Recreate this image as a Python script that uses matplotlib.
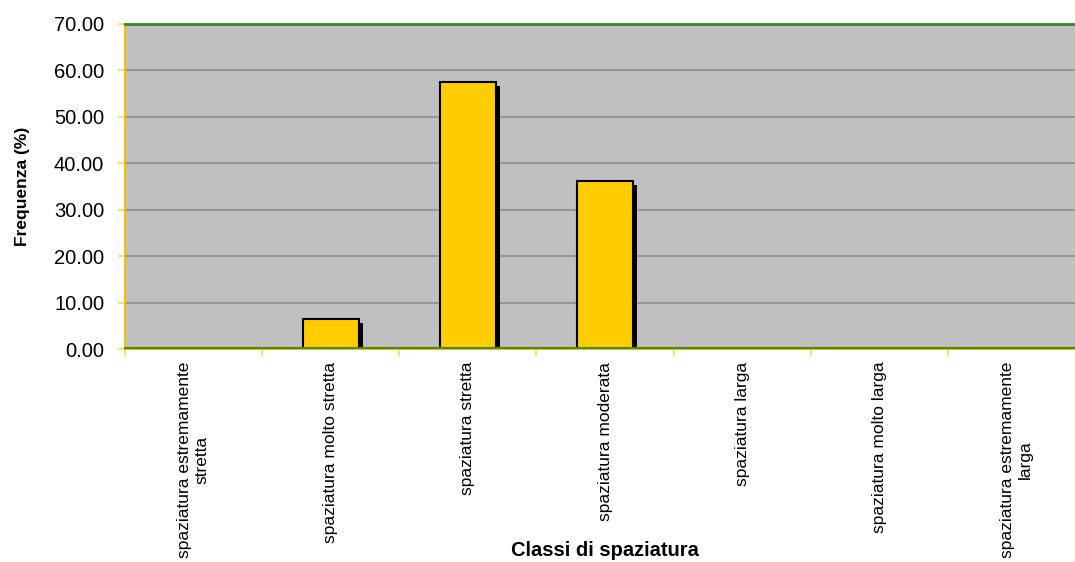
import numpy as np
import matplotlib.pyplot as plt
import matplotlib.patheffects as pe
from matplotlib.transforms import offset_copy

plt.rcParams['font.family'] = ['Liberation Sans', 'DejaVu Sans']

categories = ['spaziatura estremamente\nstretta', 'spaziatura molto stretta',
              'spaziatura stretta', 'spaziatura moderata', 'spaziatura larga',
              'spaziatura molto larga', 'spaziatura estremamente\nlarga']
frequenze = [0.0, 6.5, 57.4, 36.1, 0.0, 0.0, 0.0]
yticks = [0, 10, 20, 30, 40, 50, 60, 70]

fig = plt.figure(figsize=(10.75, 5.62), dpi=100)
# plot area runs a little past the right edge of the figure
ax = fig.add_axes([0.1163, 0.3785, 0.893, 0.5795])
ax.set_facecolor('#C0C0C0')

x = np.arange(len(categories))
shadow = [pe.SimplePatchShadow(offset=(3, -3), shadow_rgbFace='black', alpha=1.0), pe.Normal()]
for xi, v in zip(x, frequenze):
    if v > 0:
        ax.bar(xi, v, width=0.41, color='#FFCC00', edgecolor='black', linewidth=1.5,
               zorder=3, path_effects=shadow)

ax.set_xlim(-0.5, len(categories) - 0.5)
ax.set_ylim(0, 70)
ax.set_yticks(yticks)
ax.set_yticklabels(['%.2f' % t for t in yticks], fontsize=14.5)
for t in yticks[1:-1]:
    ax.axhline(t, color='#969696', lw=1.5, zorder=1)

ax.set_xticks(x)
ax.set_xticklabels(categories, rotation=90, fontsize=12.5, va='top', ha='center',
                   multialignment='center')
ax.set_xticks(np.arange(len(categories) + 1) - 0.5, minor=True)
ax.tick_params(axis='x', which='major', length=0, pad=9)
ax.tick_params(axis='x', which='minor', length=5, color='#FFD84A', width=1.2)
ax.tick_params(axis='y', length=5, color='#FFD84A', width=1.2, pad=10)

ax.spines['right'].set_visible(False)
ax.spines['top'].set_color('#2E8B22')
ax.spines['top'].set_linewidth(2)
ax.spines['left'].set_color('#F2C200')
ax.spines['left'].set_linewidth(1.5)
ax.spines['bottom'].set_color('#F2C200')
ax.spines['bottom'].set_linewidth(1.5)
# green rule sitting just above the yellow baseline
ax.plot([0, 1], [0, 0], color='#3C8C1E', lw=1.5, zorder=4, clip_on=False,
        transform=offset_copy(ax.transAxes, fig=fig, y=1.5, units='dots'))

fig.text(0.0205, 0.668, 'Frequenza (%)', rotation=90, fontsize=12.5, fontweight='bold',
         ha='center', va='center')
fig.text(0.563, 0.02, 'Classi di spaziatura', fontsize=14.5, fontweight='bold',
         ha='center', va='center')

fig.savefig('out.png', dpi=100)
